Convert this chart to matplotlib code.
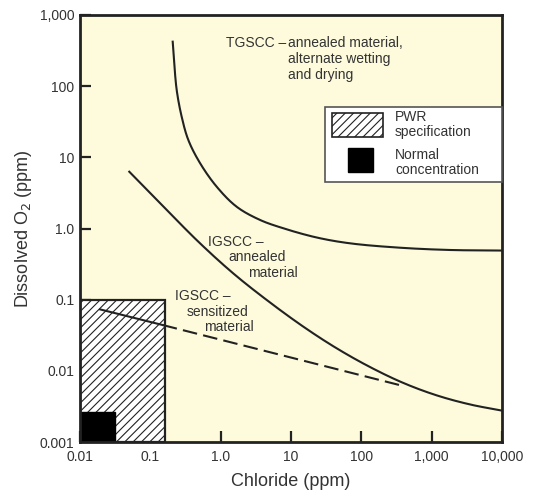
import numpy as np
import matplotlib
matplotlib.use("Agg")
import matplotlib.pyplot as plt
from matplotlib.patches import Rectangle

plt.rcParams['font.family'] = ['Liberation Sans', 'DejaVu Sans']
plt.rcParams['hatch.linewidth'] = 0.8

# curve data (chloride ppm, O2 ppm)
tg_x = [0.208, 0.217, 0.237, 0.279, 0.347, 0.508, 0.879, 1.69, 3.62, 7.78, 23.2, 69, 355, 1820, 10000]
tg_y = [422, 233, 88.3, 37.2, 17.5, 8.32, 3.86, 2.02, 1.32, 1.007, 0.747, 0.619, 0.537, 0.499, 0.49]

ig_ann_x = [0.0502, 0.171, 0.508, 1.51, 4.52, 15.0, 44.7, 133, 395, 1180, 3510, 10000]
ig_ann_y = [6.28, 1.82, 0.62, 0.234, 0.0989, 0.0417, 0.0207, 0.0113, 0.00676, 0.00452, 0.00337, 0.00276]

ig_sen_solid_x = [0.0193, 0.15]
ig_sen_solid_y = [0.073, 0.044]
ig_sen_dash_x = [0.15, 400]
ig_sen_dash_y = [0.044, 0.0061]

# regions
pwr_x = (0.01, 0.16)
pwr_y = (0.001, 0.1)
normal_x = (0.01, 0.031)
normal_y = (0.001, 0.0026)

xticks = [0.01, 0.1, 1, 10, 100, 1000, 10000]
xlabels = ['0.01', '0.1', '1.0', '10', '100', '1,000', '10,000']
yticks = [0.001, 0.01, 0.1, 1, 10, 100, 1000]
ylabels = ['0.001', '0.01', '0.1', '1.0', '10', '100', '1,000']

bg = '#fdfbdc'
ink = '#222222'
tc = '#333333'
W, H = 534, 496

fig = plt.figure(figsize=(W / 100, H / 100), dpi=100)
ax = fig.add_axes([80 / W, 1 - 442 / H, 422 / W, 427 / H])
ax.set_facecolor(bg)
ax.set_xscale('log')
ax.set_yscale('log')
ax.set_xlim(0.01, 10000)
ax.set_ylim(0.001, 1000)


def smooth(xs, ys, n=30):
    # centripetal catmull-rom through the points in log space
    pts = np.column_stack([np.log10(xs), np.log10(ys)])
    P = np.vstack([2 * pts[0] - pts[1], pts, 2 * pts[-1] - pts[-2]])
    out = []
    for i in range(1, len(P) - 2):
        p0, p1, p2, p3 = P[i - 1], P[i], P[i + 1], P[i + 2]
        t0 = 0.0
        t1 = t0 + np.linalg.norm(p1 - p0) ** 0.5
        t2 = t1 + np.linalg.norm(p2 - p1) ** 0.5
        t3 = t2 + np.linalg.norm(p3 - p2) ** 0.5
        for t in np.linspace(t1, t2, n, endpoint=False):
            a1 = (t1 - t) / (t1 - t0) * p0 + (t - t0) / (t1 - t0) * p1
            a2 = (t2 - t) / (t2 - t1) * p1 + (t - t1) / (t2 - t1) * p2
            a3 = (t3 - t) / (t3 - t2) * p2 + (t - t2) / (t3 - t2) * p3
            b1 = (t2 - t) / (t2 - t0) * a1 + (t - t0) / (t2 - t0) * a2
            b2 = (t3 - t) / (t3 - t1) * a2 + (t - t1) / (t3 - t1) * a3
            out.append((t2 - t) / (t2 - t1) * b1 + (t - t1) / (t2 - t1) * b2)
    out.append(pts[-1])
    out = np.array(out)
    return 10 ** out[:, 0], 10 ** out[:, 1]


def px(x, y):
    # figure pixel position (from top-left) -> figure fraction
    return x / W, 1 - y / H


# PWR spec region and normal concentration
ax.add_patch(Rectangle((pwr_x[0], pwr_y[0]), pwr_x[1] - pwr_x[0], pwr_y[1] - pwr_y[0],
                       facecolor='white', edgecolor=ink, hatch='////', linewidth=1.6, zorder=2))
ax.add_patch(Rectangle((normal_x[0], normal_y[0]), normal_x[1] - normal_x[0], normal_y[1] - normal_y[0],
                       facecolor='black', edgecolor='black', zorder=3))

x, y = smooth(tg_x, tg_y)
ax.plot(x, y, color=ink, lw=1.5, zorder=4)
x, y = smooth(ig_ann_x, ig_ann_y)
ax.plot(x, y, color=ink, lw=1.5, zorder=4)
ax.plot(ig_sen_solid_x, ig_sen_solid_y, color=ink, lw=1.5, zorder=4)
ax.plot(ig_sen_dash_x, ig_sen_dash_y, color=ink, lw=1.5, dashes=(7, 3), zorder=4)

# annotations
fs = 10
ax.text(*px(286, 43), 'TGSCC \u2013', transform=fig.transFigure, fontsize=fs, color=tc,
        ha='right', va='center')
for yy, t in zip([43, 59, 75], ['annealed material,', 'alternate wetting', 'and drying']):
    ax.text(*px(288, yy), t, transform=fig.transFigure, fontsize=fs, color=tc, ha='left', va='center')
for cx, yy, t in zip([236, 257, 273], [242, 257, 273], ['IGSCC \u2013', 'annealed', 'material']):
    ax.text(*px(cx, yy), t, transform=fig.transFigure, fontsize=fs, color=tc, ha='center', va='center')
for cx, yy, t in zip([203, 218, 229], [296, 312, 327], ['IGSCC \u2013', 'sensitized', 'material']):
    ax.text(*px(cx, yy), t, transform=fig.transFigure, fontsize=fs, color=tc, ha='center', va='center')

# legend box
fig.patches.append(Rectangle(px(325, 182), 177 / W, 75 / H, transform=fig.transFigure,
                             facecolor='white', edgecolor='#555555', lw=1.2, zorder=5))
fig.patches.append(Rectangle(px(332, 137), 51 / W, 24 / H, transform=fig.transFigure,
                             facecolor='white', edgecolor=ink, hatch='////', lw=1.2, zorder=6))
fig.patches.append(Rectangle(px(348, 172), 25 / W, 24 / H, transform=fig.transFigure,
                             facecolor='black', edgecolor='black', zorder=6))
for yy, t in zip([117, 132, 155, 170], ['PWR', 'specification', 'Normal', 'concentration']):
    fig.text(*px(395, yy), t, fontsize=fs, color=tc, ha='left', va='center', zorder=7)

ax.set_xticks(xticks)
ax.set_xticklabels(xlabels)
ax.set_yticks(yticks)
ax.set_yticklabels(ylabels)
ax.minorticks_off()
ax.tick_params(direction='in', length=8, width=1.6, labelsize=10, labelcolor=tc, color=ink)
ax.tick_params(axis='x', pad=6)
ax.tick_params(axis='y', pad=4)
for s in ax.spines.values():
    s.set_linewidth(2)
    s.set_color(ink)
    s.set_zorder(8)

ax.set_xlabel('Chloride (ppm)', fontsize=13, color=tc, labelpad=6)
ax.set_ylabel('Dissolved O$_2$ (ppm)', fontsize=13, color=tc, labelpad=4)

fig.savefig('out.png', dpi=100, facecolor='white')
